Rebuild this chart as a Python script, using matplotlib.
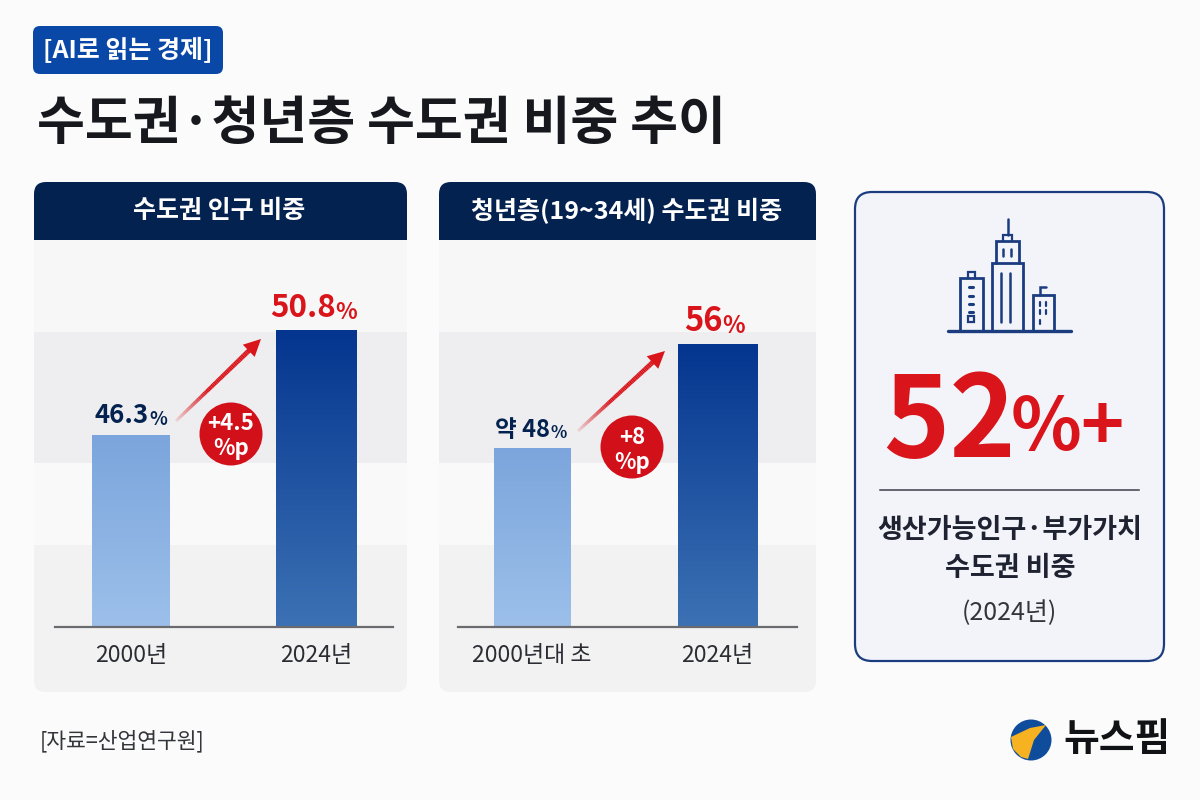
import numpy as np
import matplotlib
matplotlib.use("Agg")
import matplotlib.pyplot as plt
from matplotlib.patches import FancyBboxPatch, Rectangle, Circle, Polygon
from matplotlib.collections import LineCollection
from matplotlib.colors import LinearSegmentedColormap

plt.rcParams['font.family'] = ['Noto Sans CJK KR', 'DejaVu Sans']

W, H = 1200, 800
NAVY = '#04224f'
RED = '#d9141a'
INK = '#1f2230'

# data
tag_text = '[AI로 읽는 경제]'
title_text = '수도권·청년층 수도권 비중 추이'
source_text = '[자료=산업연구원]'
brand_text = '뉴스핌'

panel1_title = '수도권 인구 비중'
panel1_cats = ['2000년', '2024년']
panel1_vals = [46.3, 50.8]
panel1_nums = ['46.3', '50.8']
panel1_delta = ['+4.5', '%p']

panel2_title = '청년층(19~34세) 수도권 비중'
panel2_cats = ['2000년대 초', '2024년']
panel2_vals = [48, 56]
panel2_nums = ['약 48', '56']
panel2_delta = ['+8', '%p']

side_big = '52'
side_suffix = '%+'
side_lines = ['생산가능인구·부가가치', '수도권 비중']
side_year = '(2024년)'

fig = plt.figure(figsize=(12, 8), dpi=100, facecolor='#fbfbfb')

def px_axes(z):
    a = fig.add_axes([0, 0, 1, 1], zorder=z)
    a.set_xlim(0, W)
    a.set_ylim(H, 0)
    a.axis('off')
    a.patch.set_alpha(0)
    return a

bg = px_axes(0)
fg = px_axes(5)

def rounded(a, x0, y0, x1, y1, r, **kw):
    p = FancyBboxPatch((x0 + r, y0 + r), x1 - x0 - 2 * r, y1 - y0 - 2 * r,
                       boxstyle=f'round,pad={r},rounding_size={r}', **kw)
    a.add_patch(p)
    return p

def panel(x0, x1, title):
    y0, y1 = 182, 692
    card = rounded(bg, x0, y0, x1, y1, 12, fc='#f6f6f7', ec='none', zorder=1)
    bands = [(240, 332, '#f7f7f8'), (332, 463, '#eeeef0'),
             (463, 545, '#f9f9fa'), (545, 692, '#f2f2f3')]
    for t, b, c in bands:
        r = Rectangle((x0, t), x1 - x0, b - t, fc=c, ec='none', zorder=2)
        bg.add_patch(r)
        r.set_clip_path(card)
    h = Rectangle((x0, y0), x1 - x0, 58, fc=NAVY, ec='none', zorder=3)
    bg.add_patch(h)
    h.set_clip_path(card)
    bg.text((x0 + x1) / 2 - 1, y0 + 29, title, color='white', fontsize=18,
            fontweight='bold', ha='center', va='center', zorder=4)

panel(34, 407, panel1_title)
panel(439, 816, panel2_title)

light = LinearSegmentedColormap.from_list('l', ['#7ba5dc', '#9cc0ea'])
dark = LinearSegmentedColormap.from_list('d', ['#04358f', '#3c72b4'])

def bars(left, right, base_val, top_val, xlim, cats, vals, nums, numsize, width):
    pos = [left / W, (H - 627) / H, (right - left) / W, (627 - 240) / H]
    ax = fig.add_axes(pos, zorder=2)
    ax.patch.set_alpha(0)
    x = np.arange(len(vals))
    rects = ax.bar(x, vals, width=width, color='none', edgecolor='none')
    ax.set_xlim(*xlim)
    ax.set_ylim(base_val, top_val)
    grad = np.linspace(0, 1, 256).reshape(-1, 1)
    for rect, cm in zip(rects, [light, dark]):
        im = ax.imshow(grad, cmap=cm, aspect='auto', origin='upper', zorder=2,
                       extent=(rect.get_x(), rect.get_x() + rect.get_width(),
                               base_val, rect.get_height()))
        im.set_clip_path(rect)
    ax.set_xlim(*xlim)
    ax.set_ylim(base_val, top_val)
    ax.set_xticks(x, cats, fontsize=16.5, color='#2b2d33')
    ax.tick_params(axis='x', length=0, pad=12)
    ax.set_yticks([])
    for s in ['top', 'left', 'right']:
        ax.spines[s].set_visible(False)
    ax.spines['bottom'].set_color('#6b6b6f')
    ax.spines['bottom'].set_linewidth(1.6)
    for i, (v, n) in enumerate(zip(vals, nums)):
        col = NAVY if i == 0 else RED
        size = numsize[i]
        ax.annotate(n, (x[i], v), xytext=(numsize[i + 2], 4), textcoords='offset points',
                    ha='right', va='bottom', fontsize=size, fontweight='bold', color=col)
        ax.annotate('%', (x[i], v), xytext=(numsize[i + 2], 4), textcoords='offset points',
                    ha='left', va='bottom', fontsize=size * 0.72, fontweight='bold', color=col)
    return ax

bars(55, 393, 38.07, 54.66, (-0.411, 1.416), panel1_cats, panel1_vals, panel1_nums,
     [18.5, 22.5, 13, 14], [0.42, 0.437])
bars(458, 797, 34.2, 64.0, (-0.40, 1.432), panel2_cats, panel2_vals, panel2_nums,
     [17, 23.5, 13, 4], [0.416, 0.427])

def arrow(x0, y0, x1, y1):
    n = 60
    t = np.linspace(0, 0.9, n + 1)
    xs = x0 + (x1 - x0) * t
    ys = y0 + (y1 - y0) * t
    segs = np.stack([np.c_[xs[:-1], ys[:-1]], np.c_[xs[1:], ys[1:]]], axis=1)
    cols = [(0.85, 0.08, 0.10, min(1, 0.12 + 2.2 * k / n)) for k in range(n)]
    widths = np.linspace(2.2, 3.6, n)
    fg.add_collection(LineCollection(segs, colors=cols, linewidths=widths, capstyle='butt'))
    d = np.array([x1 - x0, y1 - y0], float)
    d /= np.hypot(*d)
    nrm = np.array([-d[1], d[0]])
    tip = np.array([x1, y1])
    back = tip - d * 17
    fg.add_patch(Polygon([tip, back + nrm * 8.5, back - nrm * 8.5], fc=RED, ec='none'))

def badge(cx, cy, r, lines):
    fg.add_patch(Circle((cx, cy), r, fc='#d2101a', ec='none'))
    fg.text(cx, cy - 10, lines[0], color='white', fontsize=16, fontweight='bold', ha='center', va='center')
    fg.text(cx, cy + 15, lines[1], color='white', fontsize=16, fontweight='bold', ha='center', va='center')

arrow(176, 421, 261, 339)
badge(231, 434, 31.5, panel1_delta)
arrow(578, 431, 665, 351)
badge(632, 447, 31.5, panel2_delta)

# tag and title
rounded(bg, 33, 26, 223, 74, 7, fc='#0a48a8', ec='none', zorder=1)
bg.text(128, 50, tag_text, color='white', fontsize=18, fontweight='bold',
        ha='center', va='center', zorder=2)
bg.text(37, 124, title_text, color='#16181d', fontsize=37.5, fontweight='bold',
        ha='left', va='center', zorder=2)
bg.text(40, 741, source_text, color='#33353b', fontsize=15.5, ha='left', va='center', zorder=2)

# side card
rounded(bg, 855, 192, 1164, 661, 17, fc='#f2f4f9', ec='#1b3d80', lw=1.6, zorder=1)
ICON = '#1b3d80'
def line(xs, ys, lw=2.0):
    fg.plot(xs, ys, color=ICON, lw=lw, solid_capstyle='round', solid_joinstyle='miter')
line([948, 1071], [331, 331], 2.4)
line([960, 960, 983, 983], [331, 278, 278, 331])
line([968, 968, 975, 975], [278, 272, 272, 278], 1.6)
for yy in [287, 296, 304, 312]:
    line([969, 973], [yy, yy], 2.2)
fg.add_patch(Rectangle((968, 316), 6, 6, fc='none', ec=ICON, lw=1.6))
line([992, 992, 1023, 1023], [331, 263, 263, 331])
line([996, 996, 1019, 1019], [263, 241, 241, 263])
line([1003, 1003, 1012, 1012], [241, 235, 235, 241], 1.6)
line([1008, 1008], [235, 219], 1.8)
line([1003, 1003], [249, 256], 1.8)
line([1011, 1011], [249, 256], 1.8)
line([1001, 1001], [273, 322], 1.8)
line([1010, 1010], [273, 322], 1.8)
line([1033, 1033, 1054, 1054], [331, 295, 295, 331])
line([1040, 1040, 1046], [295, 287, 287], 1.8)
for yy in [304, 312]:
    line([1040, 1040], [yy - 2, yy + 2], 1.6)
    line([1046, 1046], [yy - 2, yy + 2], 1.6)
line([1040, 1040], [320, 324], 1.6)

fg.text(883, 424, side_big, color=RED, fontsize=81, fontweight='bold', ha='left', va='center')
fg.text(1011, 429, side_suffix, color=RED, fontsize=53, fontweight='bold', ha='left', va='center')
fg.plot([880, 1139], [490, 490], color='#3c3f4a', lw=1.1)
fg.text(1010, 530, side_lines[0], color=INK, fontsize=19.5, fontweight='bold', ha='center', va='center')
fg.text(1010, 568, side_lines[1], color=INK, fontsize=19.5, fontweight='bold', ha='center', va='center')
fg.text(1009, 613, side_year, color='#33353b', fontsize=18, ha='center', va='center')

# logo
fg.add_patch(Circle((1031, 740), 20.5, fc='#0f4d9c', ec='none'))
fg.add_patch(Polygon([(1011, 737), (1030, 728), (1046, 725), (1034, 740), (1028, 759),
                      (1021, 757), (1013, 749)], fc='#f6b221', ec='none'))
fg.text(1063, 740, brand_text, color='#111216', fontsize=28, fontweight='bold', ha='left', va='center')

fig.savefig('out.png', dpi=100, facecolor=fig.get_facecolor())
